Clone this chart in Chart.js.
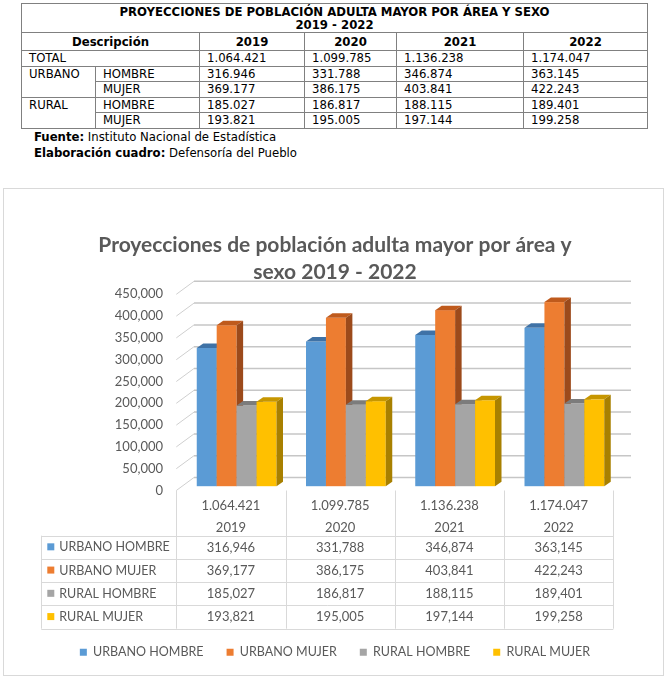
<!DOCTYPE html>
<html>
<head>
<meta charset="utf-8">
<script src="https://cdn.jsdelivr.net/npm/chart.js@4.4.0/dist/chart.umd.min.js"></script>
<style>
  body { margin: 0; background: #fff; width: 668px; height: 681px; position: relative; overflow: hidden;
         font-family: 'Liberation Sans Narrow', 'DejaVu Sans Condensed', Arial, sans-serif; }
  #tbl { position: absolute; left: 21px; top: 3px; width: 626px; border-collapse: collapse; table-layout: fixed;
         font-size: 13px; color: #000; }
  #tbl td { border: 1px solid #808080; padding: 0 0 0 7px; height: 14.5px; line-height: 14px; white-space: nowrap; overflow: hidden; }
  #tbl td.c { text-align: center; padding: 0; font-weight: bold; }
  .note { position: absolute; left: 34px; font-size: 13px; line-height: 15px; }
  #box { position: absolute; left: 3px; top: 188px; width: 659px; height: 486px; border: 1px solid #d9d9d9; }
</style>
</head>
<body>
<table id="tbl"></table>
<div class="note" style="top:129px"><b>Fuente:</b> Instituto Nacional de Estadística</div>
<div class="note" style="top:145px"><b>Elaboración cuadro:</b> Defensoría del Pueblo</div>
<div id="box"><canvas id="chart" width="659" height="486"></canvas></div>

<script>
// Data
const years = ['2019', '2020', '2021', '2022'];
const totals = [1064421, 1099785, 1136238, 1174047];
const urbanoHombre = [316946, 331788, 346874, 363145];
const urbanoMujer = [369177, 386175, 403841, 422243];
const ruralHombre = [185027, 186817, 188115, 189401];
const ruralMujer = [193821, 195005, 197144, 199258];
const seriesNames = ['URBANO HOMBRE', 'URBANO MUJER', 'RURAL HOMBRE', 'RURAL MUJER'];
const yMax = 450000;
const yStep = 50000;

// Colours: front, top, side
const frontColors = ['#5b9bd5', '#ed7d31', '#a5a5a5', '#ffc000'];
const topColors = ['#3f72a6', '#bf5a1c', '#7c7c7c', '#c69600'];
const sideColors = ['#386592', '#9c4a1b', '#6e6e6e', '#a88000'];

const textColor = '#595959';
const font = 'Lato';

// dotted thousands for the word table, commas for the chart
const dots = n => n.toLocaleString('en-US').replace(/,/g, '.');
const commas = n => n.toLocaleString('en-US');

// Top table
const series = [urbanoHombre, urbanoMujer, ruralHombre, ruralMujer];
let html = '<colgroup>' + [74, 104, 105, 92, 127, 124].map(w => `<col style="width:${w}px">`).join('') + '</colgroup>';
html += `<tr><td colspan="6" class="c" style="height:28px;line-height:13px">PROYECCIONES DE POBLACIÓN ADULTA MAYOR POR ÁREA Y SEXO<br>${years[0]} - ${years[years.length - 1]}</td></tr>`;
html += `<tr><td colspan="2" class="c" style="height:17px">Descripción</td>` + years.map(y => `<td class="c">${y}</td>`).join('') + '</tr>';
html += `<tr><td colspan="2">TOTAL</td>` + totals.map(v => `<td>${dots(v)}</td>`).join('') + '</tr>';
['URBANO', 'RURAL'].forEach((area, g) => {
    ['HOMBRE', 'MUJER'].forEach((sex, s) => {
        const vals = series[g * 2 + s];
        html += '<tr>' + (s === 0 ? `<td rowspan="2" style="vertical-align:top">${area}</td>` : '') +
            `<td>${sex}</td>` + vals.map(v => `<td>${dots(v)}</td>`).join('') + '</tr>';
    });
});
document.getElementById('tbl').innerHTML = html;

// 3D geometry (pixel offsets from the bar plane)
const FRONT = { dx: -5.7, dy: 4.3 };
const BACK = { dx: 12, dy: -8.7 };
const BAR_DX = 6.5, BAR_DY = 4.5;

function poly(ctx, pts) {
    ctx.beginPath();
    ctx.moveTo(pts[0][0], pts[0][1]);
    pts.slice(1).forEach(p => ctx.lineTo(p[0], p[1]));
    ctx.closePath();
    ctx.fill();
}

const wall3d = {
    id: 'wall3d',
    beforeDatasetsDraw(chart) {
        const { ctx, chartArea: a, scales: { y } } = chart;
        ctx.save();
        // back wall gridlines with the little perspective strokes on the left
        y.ticks.forEach(t => {
            const py = y.getPixelForValue(t.value);
            ctx.strokeStyle = '#cfcfcf';
            ctx.lineWidth = 1;
            ctx.beginPath();
            ctx.moveTo(a.left + FRONT.dx, py + FRONT.dy);
            ctx.lineTo(a.left + BACK.dx, py + BACK.dy);
            ctx.stroke();
            ctx.strokeStyle = '#c6c6c6';
            ctx.lineWidth = 1.5;
            ctx.beginPath();
            ctx.moveTo(a.left + BACK.dx, py + BACK.dy);
            ctx.lineTo(a.right + BACK.dx, py + BACK.dy);
            ctx.stroke();
        });
        // bars, left to right so every front face hides the previous side
        const n = chart.data.labels.length;
        for (let i = 0; i < n; i++) {
            chart.data.datasets.forEach((ds, d) => {
                const bar = chart.getDatasetMeta(d).data[i];
                const { x, y: top, base, width } = bar.getProps(['x', 'y', 'base', 'width'], true);
                const l = x - width / 2, r = x + width / 2;
                ctx.fillStyle = frontColors[d];
                ctx.fillRect(l, top, width, base - top);
                ctx.fillStyle = topColors[d];
                poly(ctx, [[l, top], [r, top], [r + BAR_DX, top - BAR_DY], [l + BAR_DX, top - BAR_DY]]);
                ctx.fillStyle = sideColors[d];
                poly(ctx, [[r, top], [r + BAR_DX, top - BAR_DY], [r + BAR_DX, base - BAR_DY], [r, base]]);
            });
        }
        ctx.restore();
        return false;
    },
    afterDraw(chart) {
        // data table under the plot
        const { ctx, chartArea: a, scales: { x } } = chart;
        const n = chart.data.labels.length;
        const step = (a.right - a.left) / n;
        const L = a.left + FRONT.dx, R = a.right + FRONT.dx;
        const floor = a.bottom + FRONT.dy;
        const head = a.bottom + 49.5;
        const rowH = 23.25;
        const bottom = head + rowH * series.length;
        const labelLeft = L - 135;
        ctx.save();
        ctx.strokeStyle = '#d9d9d9';
        ctx.lineWidth = 1;
        ctx.beginPath();
        for (let k = 0; k <= n; k++) {
            const xx = Math.round(L + k * step) + 0.5;
            ctx.moveTo(xx, floor);
            ctx.lineTo(xx, bottom);
        }
        ctx.moveTo(Math.round(labelLeft) + 0.5, head);
        ctx.lineTo(Math.round(labelLeft) + 0.5, bottom);
        for (let r = 0; r <= series.length; r++) {
            const yy = Math.round(head + r * rowH) + 0.5;
            ctx.moveTo(labelLeft, yy);
            ctx.lineTo(R, yy);
        }
        ctx.stroke();

        ctx.textBaseline = 'middle';
        chart.data.datasets.forEach((ds, r) => {
            const cy = head + (r + 0.5) * rowH;
            ctx.fillStyle = frontColors[r];
            ctx.fillRect(labelLeft + 6, cy - 4, 7, 7);
            ctx.fillStyle = textColor;
            ctx.textAlign = 'left';
            ctx.font = `12.5px ${font}`;
            ctx.fillText(ds.label, labelLeft + 18, cy);
            ctx.textAlign = 'center';
            ctx.font = `13px ${font}`;
            ds.data.forEach((v, i) => {
                ctx.fillText(commas(v), x.getPixelForTick(i) + FRONT.dx, cy);
            });
        });
        ctx.restore();
    }
};

new Chart(document.getElementById('chart'), {
    type: 'bar',
    data: {
        labels: years.map((y, i) => [dots(totals[i]), y]),
        datasets: series.map((vals, d) => ({
            label: seriesNames[d],
            data: vals,
            backgroundColor: frontColors[d],
            borderWidth: 0
        }))
    },
    options: {
        responsive: false,
        animation: false,
        layout: { padding: { left: 3, right: 0, top: 0, bottom: 6.5 } },
        datasets: { bar: { categoryPercentage: 0.73, barPercentage: 1 } },
        scales: {
            x: {
                grid: { display: false, drawTicks: false },
                border: { display: false },
                ticks: { color: textColor, font: { family: font, size: 13, lineHeight: 1.69 }, padding: 8.3, labelOffset: FRONT.dx, autoSkip: false, maxRotation: 0 },
                afterFit: s => { s.height = 136.8; }
            },
            y: {
                min: 0,
                max: yMax,
                grid: { display: false, drawTicks: false },
                border: { display: false },
                ticks: { stepSize: yStep, color: textColor, font: { family: font, size: 13 }, padding: 19, labelOffset: FRONT.dy, callback: v => commas(v) },
                afterFit: s => { s.width = 175; }
            },
            // empty right margin so the title and legend stay centred on the whole box
            yRight: {
                position: 'right',
                grid: { display: false, drawTicks: false },
                border: { display: false },
                ticks: { display: false },
                afterFit: s => { s.width = 44; }
            }
        },
        plugins: {
            title: {
                display: true,
                text: ['Proyecciones de población adulta mayor por área y', 'sexo 2019 - 2022'],
                color: textColor,
                font: { family: font, size: 21, weight: 'bold', lineHeight: 27 / 21 },
                padding: { top: 42.5, bottom: 4.5 }
            },
            legend: {
                position: 'bottom',
                labels: { boxWidth: 7, boxHeight: 7, color: textColor, font: { family: font, size: 12.5 }, padding: 23 }
            },
            tooltip: { enabled: false }
        }
    },
    plugins: [wall3d]
});
</script>
</body>
</html>
